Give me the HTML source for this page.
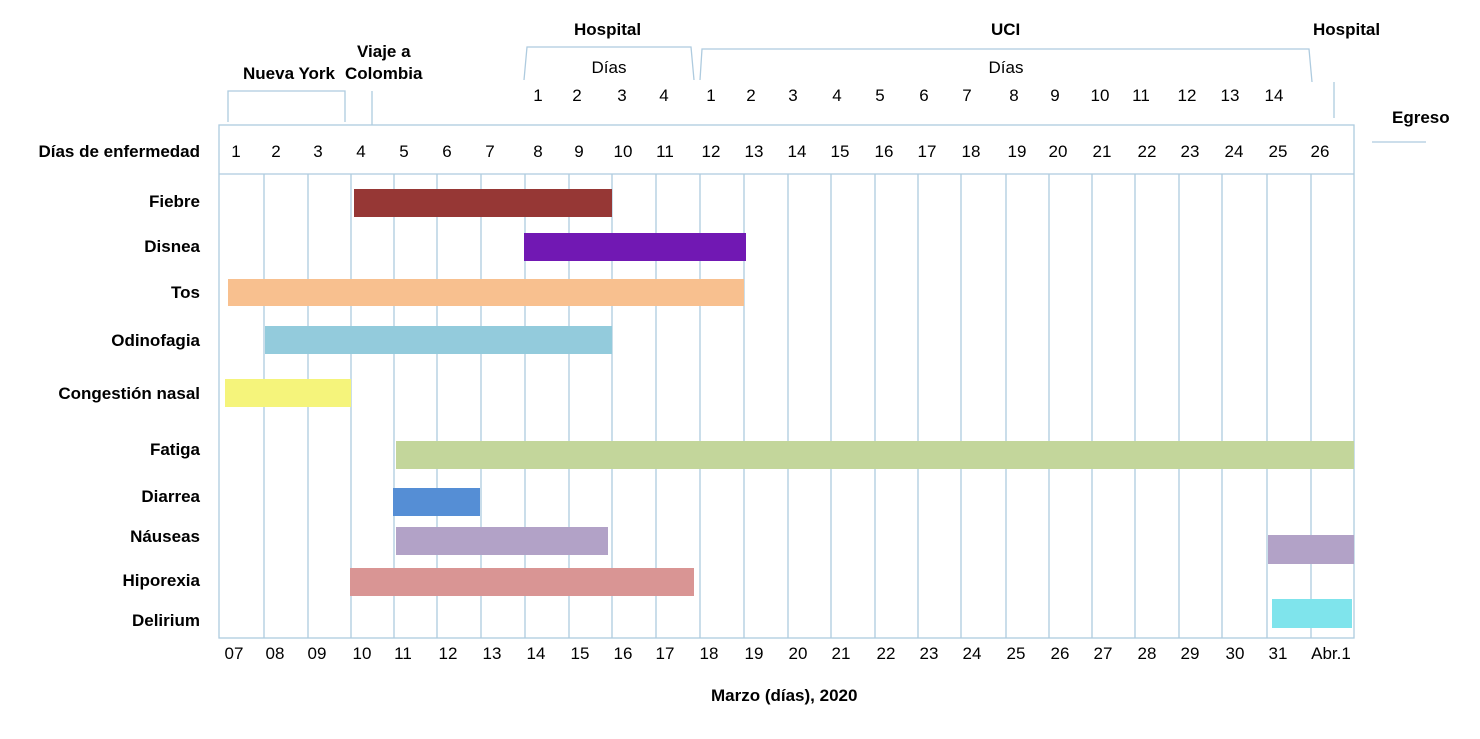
<!DOCTYPE html>
<html><head><meta charset="utf-8"><style>
html,body{margin:0;padding:0;background:#fff;}
svg{display:block;font-family:"Liberation Sans",Arial,sans-serif;}
.n{font-size:17px;fill:#000;text-anchor:middle;}
.b{font-size:17px;font-weight:bold;fill:#000;}
.l{font-size:17px;font-weight:bold;fill:#000;text-anchor:end;}
</style></head><body>
<svg width="1480" height="739" viewBox="0 0 1480 739">
<g stroke="#aecbdf" stroke-width="1.3" fill="none">
<rect x="219" y="125" width="1135" height="513"/>
<line x1="219" y1="174" x2="1354" y2="174"/>
<g id="v">
<line x1="264" y1="174" x2="264" y2="638"/><line x1="308" y1="174" x2="308" y2="638"/>
<line x1="351" y1="174" x2="351" y2="638"/><line x1="394" y1="174" x2="394" y2="638"/>
<line x1="437" y1="174" x2="437" y2="638"/><line x1="481" y1="174" x2="481" y2="638"/>
<line x1="525" y1="174" x2="525" y2="638"/><line x1="569" y1="174" x2="569" y2="638"/>
<line x1="612" y1="174" x2="612" y2="638"/><line x1="656" y1="174" x2="656" y2="638"/>
<line x1="700" y1="174" x2="700" y2="638"/><line x1="744" y1="174" x2="744" y2="638"/>
<line x1="788" y1="174" x2="788" y2="638"/><line x1="831" y1="174" x2="831" y2="638"/>
<line x1="875" y1="174" x2="875" y2="638"/><line x1="918" y1="174" x2="918" y2="638"/>
<line x1="961" y1="174" x2="961" y2="638"/><line x1="1006" y1="174" x2="1006" y2="638"/>
<line x1="1049" y1="174" x2="1049" y2="638"/><line x1="1092" y1="174" x2="1092" y2="638"/>
<line x1="1135" y1="174" x2="1135" y2="638"/><line x1="1179" y1="174" x2="1179" y2="638"/>
<line x1="1222" y1="174" x2="1222" y2="638"/><line x1="1267" y1="174" x2="1267" y2="638"/>
<line x1="1311" y1="174" x2="1311" y2="638"/>
</g>
<polyline points="228,122 228,91 345,91 345,122"/>
<line x1="372" y1="91" x2="372" y2="125"/>
<polyline points="524,80 527,47 691,47 694,80"/>
<polyline points="700,80 702,49 1309,49 1312,82"/>
<line x1="1334" y1="82" x2="1334" y2="118"/>
<line x1="1372" y1="142" x2="1426" y2="142"/>
</g>
<g stroke="none">
<rect x="354" y="189" width="258" height="28" fill="#963735"/>
<rect x="524" y="233" width="222" height="28" fill="#7118b3"/>
<rect x="228" y="279" width="516" height="27" fill="#f8c08f"/>
<rect x="265" y="326" width="347" height="28" fill="#93cbdc"/>
<rect x="225" y="379" width="126" height="28" fill="#f5f47b"/>
<rect x="396" y="441" width="958" height="28" fill="#c3d69b"/>
<rect x="393" y="488" width="87" height="28" fill="#558ed5"/>
<rect x="396" y="527" width="212" height="28" fill="#b2a2c7"/>
<rect x="1268" y="535" width="86" height="29" fill="#b2a2c7"/>
<rect x="350" y="568" width="344" height="28" fill="#d99594"/>
<rect x="1272" y="599" width="80" height="29" fill="#7fe4ec"/>
</g>
<text class="b" x="574" y="35">Hospital</text>
<text class="b" x="991" y="35">UCI</text>
<text class="b" x="1313" y="35">Hospital</text>
<text class="b" x="357" y="57">Viaje a</text>
<text class="b" x="345" y="79">Colombia</text>
<text class="b" x="243" y="79">Nueva York</text>
<text class="b" x="1392" y="123">Egreso</text>
<text class="n" x="609" y="73">Días</text>
<text class="n" x="1006" y="73">Días</text>
<g class="n">
<text x="538" y="101">1</text><text x="577" y="101">2</text><text x="622" y="101">3</text><text x="664" y="101">4</text>
<text x="711" y="101">1</text><text x="751" y="101">2</text><text x="793" y="101">3</text><text x="837" y="101">4</text><text x="880" y="101">5</text><text x="924" y="101">6</text><text x="967" y="101">7</text><text x="1014" y="101">8</text><text x="1055" y="101">9</text><text x="1100" y="101">10</text><text x="1141" y="101">11</text><text x="1187" y="101">12</text><text x="1230" y="101">13</text><text x="1274" y="101">14</text>
</g>
<g class="n">
<text x="236" y="157">1</text><text x="276" y="157">2</text><text x="318" y="157">3</text><text x="361" y="157">4</text><text x="404" y="157">5</text><text x="447" y="157">6</text><text x="490" y="157">7</text><text x="538" y="157">8</text><text x="579" y="157">9</text><text x="623" y="157">10</text><text x="665" y="157">11</text><text x="711" y="157">12</text><text x="754" y="157">13</text><text x="797" y="157">14</text><text x="840" y="157">15</text><text x="884" y="157">16</text><text x="927" y="157">17</text><text x="971" y="157">18</text><text x="1017" y="157">19</text><text x="1058" y="157">20</text><text x="1102" y="157">21</text><text x="1147" y="157">22</text><text x="1190" y="157">23</text><text x="1234" y="157">24</text><text x="1278" y="157">25</text><text x="1320" y="157">26</text>
</g>
<g class="n">
<text x="234" y="659">07</text><text x="275" y="659">08</text><text x="317" y="659">09</text><text x="362" y="659">10</text><text x="403" y="659">11</text><text x="448" y="659">12</text><text x="492" y="659">13</text><text x="536" y="659">14</text><text x="580" y="659">15</text><text x="623" y="659">16</text><text x="665" y="659">17</text><text x="709" y="659">18</text><text x="754" y="659">19</text><text x="798" y="659">20</text><text x="841" y="659">21</text><text x="886" y="659">22</text><text x="929" y="659">23</text><text x="972" y="659">24</text><text x="1016" y="659">25</text><text x="1060" y="659">26</text><text x="1103" y="659">27</text><text x="1147" y="659">28</text><text x="1190" y="659">29</text><text x="1235" y="659">30</text><text x="1278" y="659">31</text><text x="1331" y="659">Abr.1</text>
</g>
<g class="l">
<text x="200" y="157">Días de enfermedad</text>
<text x="200" y="207">Fiebre</text>
<text x="200" y="252">Disnea</text>
<text x="200" y="298">Tos</text>
<text x="200" y="346">Odinofagia</text>
<text x="200" y="399">Congestión nasal</text>
<text x="200" y="455">Fatiga</text>
<text x="200" y="502">Diarrea</text>
<text x="200" y="542">Náuseas</text>
<text x="200" y="586">Hiporexia</text>
<text x="200" y="626">Delirium</text>
</g>
<text class="b" x="711" y="701">Marzo (días), 2020</text>
</svg>
</body></html>
